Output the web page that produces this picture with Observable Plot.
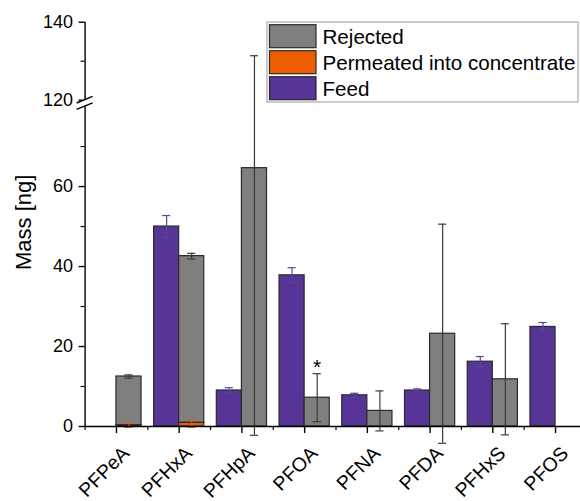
<!DOCTYPE html>
<html>
<head>
<meta charset="utf-8">
<script src="https://cdn.jsdelivr.net/npm/d3@7"></script>
<script src="https://cdn.jsdelivr.net/npm/@observablehq/plot@0.6"></script>
<style>
  html, body { margin: 0; padding: 0; background: #fff; }
  #chart svg { display: block; font-family: "Liberation Sans", Arial, sans-serif; }
</style>
</head>
<body>
<div id="chart"></div>
<script>
// ---- data ----
const categories = ["PFPeA", "PFHxA", "PFHpA", "PFOA", "PFNA", "PFDA", "PFHxS", "PFOS"];
const feedMean      = [null, 50.0, 9.0, 37.8, 7.8, 9.0, 16.2, 24.9];
const feedErr       = [null, 2.75, 0.7, 1.9, 0.5, 0.4, 1.3, 1.1];
const rejectedMean  = [12.5, 42.6, 64.6, 7.2, 3.9, 23.2, 11.8, null];
const rejectedErr   = [0.4, 0.7, 66.8, 6.0, 5.0, 27.4, 13.9, null];
const permeatedMean = [0.3, 0.9, null, null, null, null, null, null];
const permeatedErr  = [0.5, 1.1, null, null, null, null, null, null];
const seriesNames   = ["Rejected", "Permeated into concentrate", "Feed"];
const seriesColors  = ["#7f7f7f", "#ec5c00", "#563596"];
const errorColors   = ["#3a3a3a", "#c8642c", "#5d449c"];
const majorTicks    = [0, 20, 40, 60, 120, 140];
const minorTicks    = [10, 30, 50, 70, 130];
const axisBreak     = [80, 120];
const annotations   = [{category: "PFOA", series: "Rejected", label: "*"}];
const yTitle        = "Mass [ng]";

// ---- broken-axis mapping: [0,80] and [120,140] ----
function brk(v) {
  const [lo, hi] = axisBreak;
  if (v <= lo) return v;
  if (v >= hi) return lo + 1.6 + (v - hi) * 0.975;
  return lo + (v - lo) / (hi - lo) * 1.6;
}

const colorOf = Object.fromEntries(seriesNames.map((s, i) => [s, seriesColors[i]]));
const errColorOf = Object.fromEntries(seriesNames.map((s, i) => [s, errorColors[i]]));

const barW = 0.4;      // bar width in category units
const capW = 0.065;    // half-width of error caps

const feedRows = categories.map((c, i) => ({c, i, v: feedMean[i], e: feedErr[i], s: "Feed", cx: i - barW / 2}))
  .filter(d => d.v != null);
const rejRows = categories.map((c, i) => ({c, i, v: rejectedMean[i], e: rejectedErr[i], p: permeatedMean[i] || 0, s: "Rejected", cx: i + barW / 2}))
  .filter(d => d.v != null);
const permRows = categories.map((c, i) => ({c, i, v: permeatedMean[i], e: permeatedErr[i], s: "Permeated into concentrate", cx: i + barW / 2}))
  .filter(d => d.v != null);
const errRows = [...feedRows, ...rejRows, ...permRows];

const tickLabel = new Map(majorTicks.map(t => [brk(t), String(t)]));
const annRows = annotations.map(a => {
  const r = [...feedRows, ...rejRows].find(d => d.c === a.category && d.s === a.series);
  return {...r, label: a.label};
});

const barStroke = "#2a2a2a";

const chart = Plot.plot({
  width: 580,
  height: 501,
  marginLeft: 84.6,
  marginRight: 0,
  marginTop: 21.7,
  marginBottom: 75,
  x: {type: "linear", domain: [-0.5, categories.length - 0.5], range: [84.6, 586.4]},
  y: {type: "linear", domain: [0, brk(140)], range: [426, 21.7]},
  style: {fontFamily: "Liberation Sans, Arial, sans-serif", color: "#000", background: "#fff"},
  marks: [
    // feed bars
    Plot.rectY(feedRows, {x1: d => d.i - barW, x2: d => d.i, y1: 0, y2: d => brk(d.v),
      fill: colorOf["Feed"], stroke: barStroke, strokeWidth: 1.2}),
    // rejected bars (stacked on permeated)
    Plot.rectY(rejRows, {x1: d => d.i, x2: d => d.i + barW, y1: d => brk(d.p), y2: d => brk(d.v),
      fill: colorOf["Rejected"], stroke: barStroke, strokeWidth: 1.2}),
    // permeated bars
    Plot.rectY(permRows, {x1: d => d.i, x2: d => d.i + barW, y1: 0, y2: d => brk(d.v),
      fill: colorOf["Permeated into concentrate"], stroke: barStroke, strokeWidth: 1.2}),
    // error bars
    Plot.ruleX(errRows, {x: "cx", y1: d => brk(d.v - d.e), y2: d => brk(d.v + d.e),
      stroke: d => errColorOf[d.s], strokeWidth: 1.2}),
    Plot.ruleY(errRows, {y: d => brk(d.v + d.e), x1: d => d.cx - capW, x2: d => d.cx + capW,
      stroke: d => errColorOf[d.s], strokeWidth: 1.2}),
    Plot.ruleY(errRows, {y: d => brk(d.v - d.e), x1: d => d.cx - capW, x2: d => d.cx + capW,
      stroke: d => errColorOf[d.s], strokeWidth: 1.2}),
    // annotation
    Plot.text(annRows, {x: "cx", y: d => brk(d.v + d.e), text: "label", dy: -6, fontSize: 21, fill: "#000"}),
    // axes lines
    Plot.ruleY([0], {stroke: "#000", strokeWidth: 1.4}),
    Plot.ruleX([-0.5], {y1: brk(0), y2: brk(140), stroke: "#000", strokeWidth: 1.4}),
    // y axis
    Plot.axisY({ticks: majorTicks.map(brk), tickFormat: t => tickLabel.get(t), tickSize: 6, tickPadding: 6,
      fontSize: 18, label: null, strokeWidth: 1.4}),
    Plot.axisY({ticks: minorTicks.map(brk), tickFormat: () => "", tickSize: 4, label: null, strokeWidth: 1.2}),
    // x axis ticks
    Plot.axisX({ticks: categories.map((c, i) => i), tickFormat: () => "", tickSize: 7,
      label: null, strokeWidth: 1.4}),
    Plot.axisX({ticks: d3.range(-0.5, categories.length - 0.4, 1), tickFormat: () => "", tickSize: 4,
      label: null, strokeWidth: 1.2}),
    // x tick labels (rotated)
    Plot.text(categories, {x: (d, i) => i, y: brk(0), text: d => d, rotate: -45, textAnchor: "end",
      lineAnchor: "bottom", dx: 14, dy: 28, fontSize: 19.5, fill: "#000"}),
    // y title
    Plot.text([yTitle], {frameAnchor: "left", rotate: -90, textAnchor: "middle", dx: -61, dy: -2, fontSize: 22, fill: "#000"})
  ]
});

document.getElementById("chart").append(chart);

// ---- axis break marker & in-plot legend ----
const svg = d3.select(chart);
const ys = chart.scale("y");
const xs = chart.scale("x");
const ax = xs.apply(-0.5);
const yHi = ys.apply(brk(axisBreak[1]));
const yLo = ys.apply(brk(axisBreak[0]));
const gb = svg.append("g");
gb.append("rect").attr("x", ax - 3).attr("y", yHi).attr("width", 6).attr("height", yLo - yHi).attr("fill", "#fff");
[yHi, yLo].forEach(y0 => {
  gb.append("line").attr("x1", ax - 8).attr("y1", y0 + 3.3).attr("x2", ax + 8).attr("y2", y0 - 3.3)
    .attr("stroke", "#000").attr("stroke-width", 1.4);
});

const lg = svg.append("g").attr("transform", "translate(267,22)");
lg.append("rect").attr("x", 0).attr("y", 0).attr("width", 311).attr("height", 80)
  .attr("fill", "#fff").attr("stroke", "#a8a8a8").attr("stroke-width", 1.2);
seriesNames.forEach((name, i) => {
  const y0 = 2.7 + i * 26;
  lg.append("rect").attr("x", 2.5).attr("y", y0).attr("width", 46.5).attr("height", 23)
    .attr("fill", seriesColors[i]).attr("stroke", barStroke).attr("stroke-width", 1.2);
  lg.append("text").attr("x", 55.5).attr("y", y0 + 11.5).attr("dy", "0.36em")
    .attr("text-anchor", "start").attr("font-size", 20.6).attr("fill", "#000").text(name);
});
</script>
</body>
</html>
